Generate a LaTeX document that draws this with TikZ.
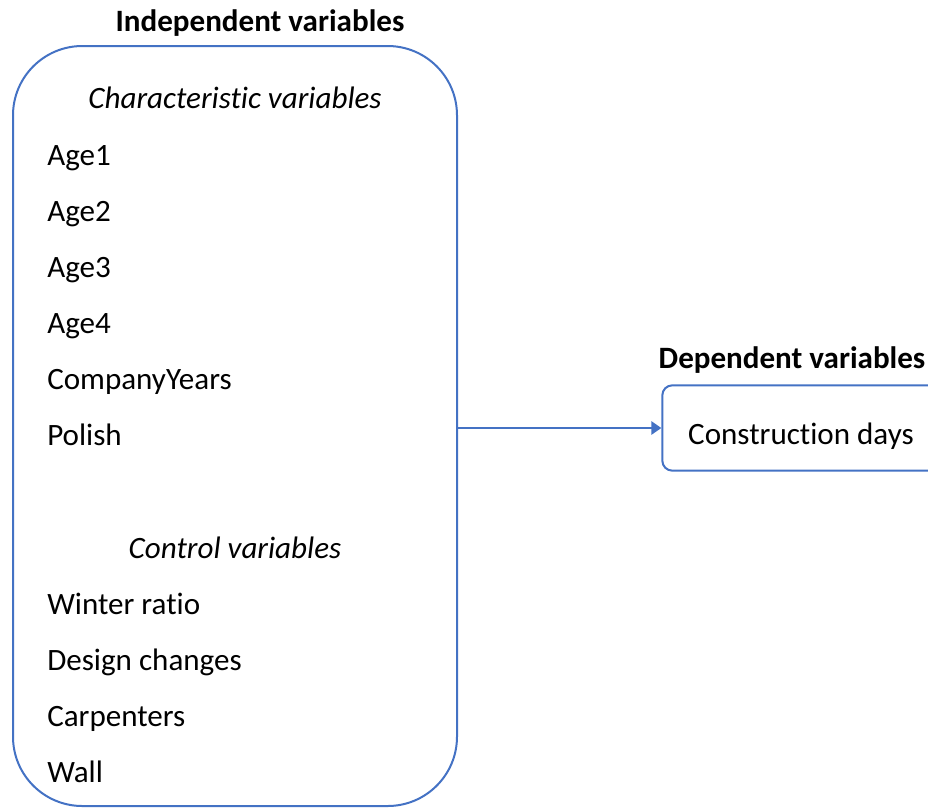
\documentclass[tikz,border=0pt]{standalone}
\usepackage{fontspec}
\setmainfont{Carlito}[RawFeature=-liga]
\usetikzlibrary{arrows.meta}
\definecolor{officeblue}{HTML}{4472C4}
\begin{document}
\begin{tikzpicture}[x=0.75pt, y=-0.75pt,
        group/.style={rectangle, draw=officeblue, line width=1.5pt, rounded corners=52pt, minimum width=333pt, minimum height=570pt, inner sep=0pt},
        target/.style={rectangle, draw=officeblue, line width=1.5pt, rounded corners=7.5pt, minimum width=208pt, minimum height=64pt, inner sep=0pt},
        heading/.style={font=\fontsize{23.3}{28}\selectfont\bfseries, inner sep=0pt, anchor=base},
        subhead/.style={font=\fontsize{23.3}{28}\selectfont\itshape, inner sep=0pt, anchor=base},
        var/.style={font=\fontsize{23.3}{28}\selectfont, inner sep=0pt, anchor=base west},
        arrow/.style={-{Triangle[length=7.5pt, width=10pt]}, draw=officeblue, fill=officeblue, line width=1.5pt}
    ]
        \clip (0,0) rectangle (928,808);
        % Boxes
        \node[group] (indep) at (235,426) {};
        \node[target] (dep) at (801,428) {};
        \node[font=\fontsize{23.3}{28}\selectfont, inner sep=0pt, anchor=base] (days) at (801,444) {Construction days};
        
        % Headings
        \node[heading] (indephead) at (260,31) {Independent variables};
        \node[heading] (dephead) at (792,368) {Dependent variables};
        
        % Characteristic variables
        \node[subhead] (charhead) at (235,108) {Characteristic variables};
        \node[var] (age1) at (47,165) {Age1};
        \node[var] (age2) at (47,221) {Age2};
        \node[var] (age3) at (47,277) {Age3};
        \node[var] (age4) at (47,333) {Age4};
        \node[var] (years) at (47,389) {CompanyYears};
        \node[var] (polish) at (47,445) {Polish};
        
        % Control variables
        \node[subhead] (ctrlhead) at (235,558) {Control variables};
        \node[var] (winter) at (47,614) {Winter ratio};
        \node[var] (design) at (47,670) {Design changes};
        \node[var] (carp) at (47,726) {Carpenters};
        \node[var] (wall) at (47,782) {Wall};
        
        % Connect boxes
        \draw[arrow] (indep.east |- dep.west) -- (dep.west);
    \end{tikzpicture}
\end{document}
